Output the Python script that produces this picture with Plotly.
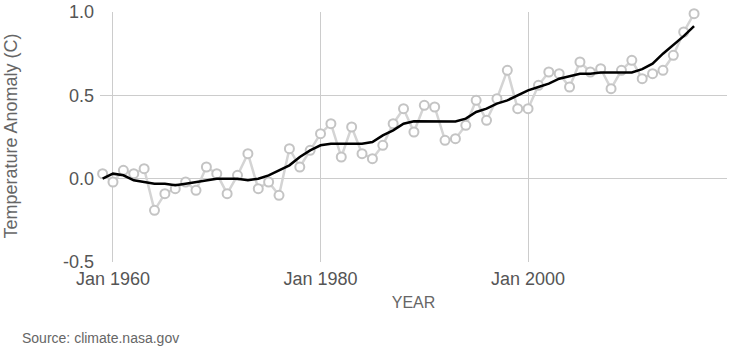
import plotly.graph_objects as go

years = list(range(1959, 2017))
anomaly = [0.03, -0.02, 0.05, 0.03, 0.06, -0.19, -0.09, -0.06, -0.02, -0.07,
           0.07, 0.03, -0.09, 0.02, 0.15, -0.06, -0.02, -0.10, 0.18, 0.07,
           0.17, 0.27, 0.33, 0.13, 0.31, 0.15, 0.12, 0.20, 0.33, 0.42,
           0.28, 0.44, 0.43, 0.23, 0.24, 0.32, 0.47, 0.35, 0.48, 0.65,
           0.42, 0.42, 0.56, 0.64, 0.63, 0.55, 0.70, 0.64, 0.66, 0.54,
           0.65, 0.71, 0.60, 0.63, 0.65, 0.74, 0.88, 0.99]
smoothed = [0.00, 0.03, 0.02, -0.01, -0.02, -0.03, -0.03, -0.04, -0.03, -0.02,
            -0.01, 0.00, 0.00, 0.00, -0.01, 0.00, 0.02, 0.05, 0.08, 0.13,
            0.17, 0.20, 0.21, 0.21, 0.21, 0.21, 0.22, 0.26, 0.29, 0.33,
            0.345, 0.345, 0.345, 0.343, 0.343, 0.36, 0.40, 0.42, 0.45, 0.47,
            0.50, 0.53, 0.55, 0.57, 0.60, 0.615, 0.63, 0.63, 0.637, 0.637,
            0.637, 0.637, 0.657, 0.69, 0.75, 0.80, 0.855, 0.915]
dates = [f"{y}-01-01" for y in years]

x_tick_years = [1960, 1980, 2000]
x_tick_labels = ["Jan 1960", "Jan 1980", "Jan 2000"]
y_ticks = [-0.5, 0.0, 0.5, 1.0]
y_tick_labels = ["-0.5", "0.0", "0.5", "1.0"]

FONT = "Arial, 'Liberation Sans', sans-serif"

fig = go.Figure()
fig.add_trace(go.Scatter(
    x=dates, y=anomaly, mode="lines+markers",
    line=dict(color="#d4d4d4", width=2.5),
    marker=dict(symbol="circle", size=9, color="white",
                line=dict(color="#c4c4c4", width=2)),
    cliponaxis=False,
    showlegend=False))
fig.add_trace(go.Scatter(
    x=dates, y=smoothed, mode="lines",
    line=dict(color="black", width=2.5),
    showlegend=False))

fig.update_layout(
    width=735, height=364,
    margin=dict(l=100, r=8, t=12, b=102),
    plot_bgcolor="white", paper_bgcolor="white",
    font=dict(family=FONT, color="#555555"),
    xaxis=dict(
        type="date",
        automargin=False,
        range=["1958-10-01", "2019-03-05"],
        tickvals=[f"{y}-01-01" for y in x_tick_years],
        ticktext=x_tick_labels,
        tickfont=dict(size=18, color="#555555"),
        ticklabelstandoff=4,
        showgrid=True, gridcolor="#cccccc", gridwidth=1,
        zeroline=False, showline=False, ticks="",
        title=dict(text="YEAR", font=dict(size=16, color="#666666"), standoff=8),
    ),
    yaxis=dict(
        automargin=False,
        range=[-0.5, 1.0],
        tickvals=y_ticks, ticktext=y_tick_labels,
        tickfont=dict(size=18, color="#555555"),
        ticklabelstandoff=5,
        showgrid=True, gridcolor="#cccccc", gridwidth=1,
        zeroline=False, showline=False, ticks="",
    ),
    annotations=[
        dict(text="Temperature Anomaly (C)", textangle=-90,
             xref="paper", yref="paper", x=(10 - 100) / 627, y=(262 - 136.5) / 250,
             xanchor="center", yanchor="middle", showarrow=False,
             font=dict(size=18, color="#666666", family=FONT)),
        dict(text="Source: climate.nasa.gov",
             xref="paper", yref="paper", x=(20 - 100) / 627, y=-(338 - 262) / 250,
             xanchor="left", yanchor="middle", showarrow=False,
             font=dict(size=14, color="#666666", family=FONT)),
    ],
)

fig.write_html("out.html", config={"displayModeBar": False},
               post_script="document.body.style.margin='0';")
